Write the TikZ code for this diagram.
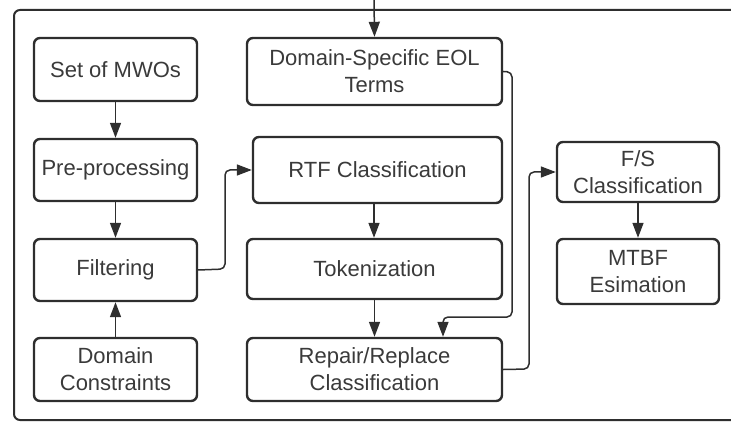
\documentclass[tikz,border=0pt]{standalone}
\usepackage{fontspec}
\setmainfont{Liberation Sans}
\usetikzlibrary{arrows.meta}
\definecolor{ln}{HTML}{2E2E2E}
\definecolor{tx}{HTML}{3A3A3A}
\tikzset{
  box/.style={draw=ln, line width=2.4pt, rounded corners=6pt, inner sep=0pt,
    align=center, text=tx, font=\fontsize{22}{27}\selectfont},
  conn/.style={draw=ln, line width=1.5pt, rounded corners=5pt,
    -{Triangle[length=15pt,width=11pt]}},
}
\begin{document}
\begin{tikzpicture}[x=1pt,y=-1pt]
\useasboundingbox (0,0) rectangle (731,422);
\begin{scope}
\clip (0,0) rectangle (731,422);
\draw[ln, line width=2pt, rounded corners=6pt] (14,10) rectangle (760,420);
\end{scope}
% boxes
\node[box, minimum width=163pt, minimum height=63pt] (mwo) at (115.5,69.5) {Set of MWOs};
\node[box, minimum width=163pt, minimum height=62pt] (pre) at (115.5,170) {Pre-processing};
\node[box, minimum width=163pt, minimum height=62pt] (fil) at (115.5,270) {Filtering};
\node[box, minimum width=163pt, minimum height=63pt] (dc) at (115.5,369.5) {Domain\\Constraints};
\node[box, minimum width=255pt, minimum height=67pt] (eol) at (374.5,71.5) {Domain-Specific EOL\\Terms};
\node[box, minimum width=249pt, minimum height=66pt] (rtf) at (377.5,170) {RTF Classification};
\node[box, minimum width=255pt, minimum height=60pt] (tok) at (374.5,269) {Tokenization};
\node[box, minimum width=255pt, minimum height=63pt] (rr) at (374.5,369.5) {Repair/Replace\\Classification};
\node[box, minimum width=162pt, minimum height=60pt] (fs) at (638,172) {F/S\\Classification};
\node[box, minimum width=162pt, minimum height=65pt] (mtbf) at (638,271.5) {MTBF\\Esimation};
\coordinate (topin) at (374,-2);
% connectors
\draw[conn] (topin) -- (eol.north);
\draw[conn] (mwo) -- (pre);
\draw[conn] (pre) -- (fil);
\draw[conn] (dc) -- (fil);
\draw[conn] (fil.east) -- (225,269) -- (225,170) -- (rtf.west);
\draw[conn] (rtf.south -| 374,0) -- (tok.north -| 374,0);
\draw[conn] (tok) -- (rr);
\draw[conn] (eol.east) -- (512,72) -- (512,317) -- (443,317) -- (rr.north -| 443,0);
\draw[conn] (rr.east) -- (529,369) -- (529,172) -- (fs.west);
\draw[conn] (fs) -- (mtbf);
\end{tikzpicture}
\end{document}
